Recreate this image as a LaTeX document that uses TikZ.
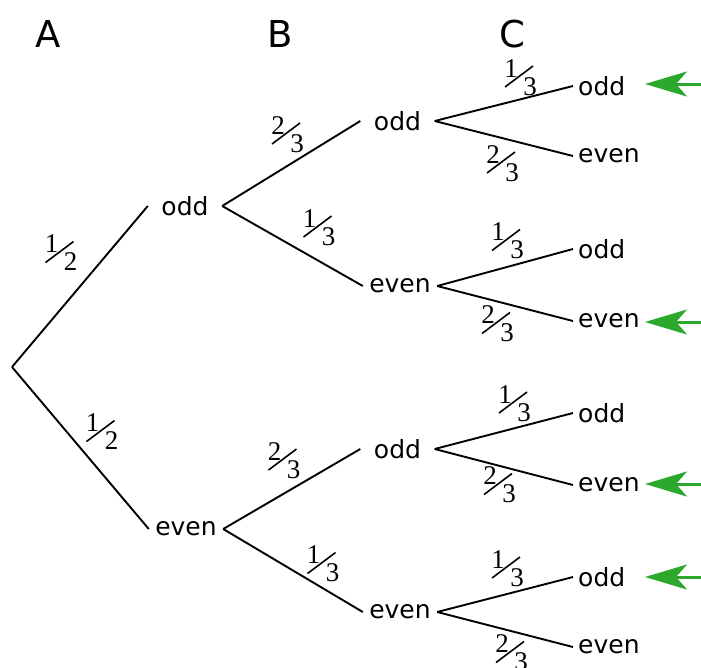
\documentclass[tikz,border=0pt]{standalone}
\usepackage{fontspec}
\setmainfont{DejaVu Sans}
\newfontfamily\fracfont{Liberation Serif}
\usetikzlibrary{arrows.meta}
\definecolor{arrowgreen}{RGB}{44,168,44}
\tikzset{
  pics/fr/.style 2 args={code={
    \node[fnum] (-n) at (-8,-8) {#1};
    \node[fnum] (-d) at (11,10) {#2};
    \draw[fslash] (-14,10.5) -- (14,-10.5);
  }}
}
\begin{document}
\begin{tikzpicture}[x=1pt,y=-1pt,
  branch/.style={line width=1.9pt, draw=black},
  midlab/.style={font=\fontsize{25}{28}\selectfont, minimum width=74pt, inner xsep=0pt, inner ysep=2pt},
  leaflab/.style={font=\fontsize{25}{28}\selectfont, anchor=west, inner xsep=5pt, inner ysep=2pt},
  head/.style={font=\fontsize{37}{40}\selectfont, inner sep=0pt},
  fnum/.style={font=\fracfont\fontsize{27}{30}\selectfont, inner sep=0pt},
  fslash/.style={line width=1.6pt},
  pick/.style={draw=arrowgreen, line width=3pt, -{Stealth[length=42pt,width=25pt,inset=11pt]}}]
\useasboundingbox (0,0) rectangle (701,667);

% headers
\node[head] (hA) at (48,34) {A};
\node[head] (hB) at (280,34) {B};
\node[head] (hC) at (512,34) {C};

% root
\coordinate (R) at (12,367);

% level A
\node[midlab] (Ao) at (185,206) {odd};
\node[midlab] (Ae) at (186,529) {even};

% level B
\node[midlab] (Boo) at (397.5,121) {odd};
\node[midlab] (Boe) at (400,286) {even};
\node[midlab] (Beo) at (397.5,449) {odd};
\node[midlab] (Bee) at (400,612) {even};

% level C
\node[leaflab] (Cooo) at (573,86) {odd};
\node[leaflab] (Cooe) at (573,156) {even};
\node[leaflab] (Coeo) at (573,249) {odd};
\node[leaflab] (Coee) at (573,321) {even};
\node[leaflab] (Ceoo) at (573,413) {odd};
\node[leaflab] (Ceoe) at (573,485) {even};
\node[leaflab] (Ceeo) at (573,577) {odd};
\node[leaflab] (Ceee) at (573,647) {even};

% branches
\draw[branch] (R) -- (Ao.west);
\draw[branch] (R) -- (Ae.west);
\draw[branch] (Ao.east) -- (Boo.west);
\draw[branch] (Ao.east) -- (Boe.west);
\draw[branch] (Ae.east) -- (Beo.west);
\draw[branch] (Ae.east) -- (Bee.west);
\draw[branch] (Boo.east) -- (Cooo.west);
\draw[branch] (Boo.east) -- (Cooe.west);
\draw[branch] (Boe.east) -- (Coeo.west);
\draw[branch] (Boe.east) -- (Coee.west);
\draw[branch] (Beo.east) -- (Ceoo.west);
\draw[branch] (Beo.east) -- (Ceoe.west);
\draw[branch] (Bee.east) -- (Ceeo.west);
\draw[branch] (Bee.east) -- (Ceee.west);

% probabilities
\pic (f1) at (59.5,252) {fr={1}{2}};
\pic (f2) at (100.5,431) {fr={1}{2}};
\pic (f3) at (286,133.5) {fr={2}{3}};
\pic (f4) at (317.5,226.5) {fr={1}{3}};
\pic (f5) at (282.5,459.5) {fr={2}{3}};
\pic (f6) at (321.5,563) {fr={1}{3}};
\pic (f7) at (519,76.5) {fr={1}{3}};
\pic (f8) at (501,162.5) {fr={2}{3}};
\pic (f9) at (506,240) {fr={1}{3}};
\pic (f10) at (496,323) {fr={2}{3}};
\pic (f11) at (513,402.5) {fr={1}{3}};
\pic (f12) at (498,484) {fr={2}{3}};
\pic (f13) at (506,567.5) {fr={1}{3}};
\pic (f14) at (510,652) {fr={2}{3}};

% green markers
\coordinate (g1s) at (703,84);  \coordinate (g1e) at (645,84);
\coordinate (g2s) at (703,322); \coordinate (g2e) at (645,322);
\coordinate (g3s) at (703,484); \coordinate (g3e) at (645,484);
\coordinate (g4s) at (703,577); \coordinate (g4e) at (645,577);
\draw[pick] (g1s) -- (g1e);
\draw[pick] (g2s) -- (g2e);
\draw[pick] (g3s) -- (g3e);
\draw[pick] (g4s) -- (g4e);
\end{tikzpicture}
\end{document}
